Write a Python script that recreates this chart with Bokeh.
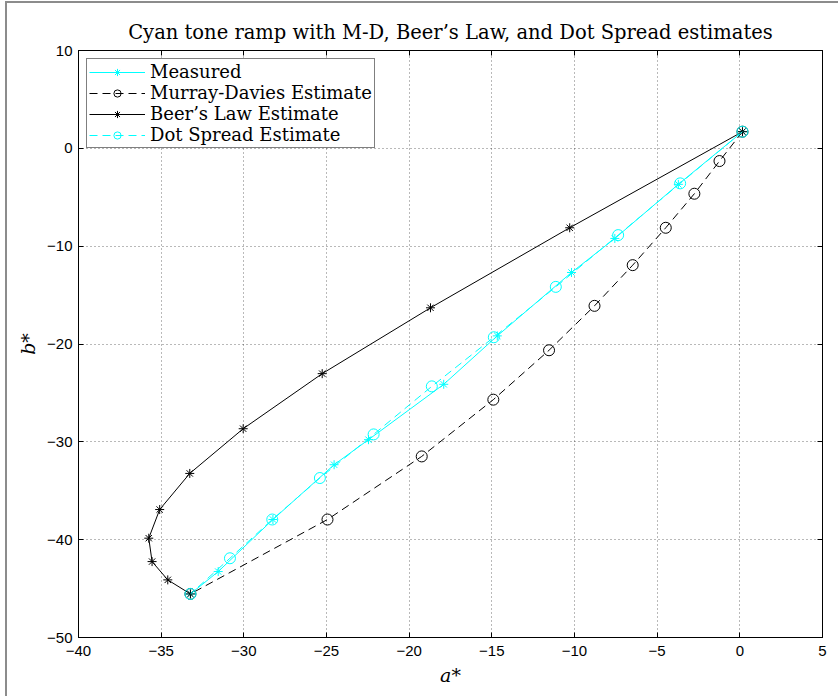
from bokeh.plotting import figure
from bokeh.models import Legend, LegendItem, LinearAxis, FixedTicker, Range1d
from bokeh.embed import file_html
from bokeh.resources import INLINE

# ---- data (a*, b*) ----
measured_a = [0.16, -3.72, -7.56, -10.18, -14.67, -17.91, -22.46, -24.54, -28.24, -31.55, -33.23]
measured_b = [1.70, -3.68, -9.21, -12.69, -19.17, -24.12, -29.78, -32.34, -37.94, -43.26, -45.55]

md_a = [0.16, -1.23, -2.75, -4.48, -6.48, -8.79, -11.54, -14.91, -19.24, -24.94, -33.23]
md_b = [1.70, -1.30, -4.64, -8.12, -11.94, -16.10, -20.64, -25.69, -31.49, -37.94, -45.55]

beer_a = [0.16, -10.29, -18.71, -25.26, -30.04, -33.27, -35.09, -35.75, -35.55, -34.60, -33.23]
beer_b = [1.70, -8.12, -16.30, -23.03, -28.66, -33.23, -36.92, -39.85, -42.24, -44.11, -45.55]

ds_a = [0.16, -3.61, -7.36, -11.13, -14.88, -18.63, -22.15, -25.40, -28.28, -30.84, -33.23]
ds_b = [1.70, -3.58, -8.87, -14.16, -19.31, -24.33, -29.24, -33.70, -37.94, -41.90, -45.55]

x_ticks = [-40, -35, -30, -25, -20, -15, -10, -5, 0, 5]
y_ticks = [-50, -40, -30, -20, -10, 0, 10]

title_text = "Cyan tone ramp with M-D, Beer\u2019s Law, and Dot Spread estimates"
labels = ["Measured", "Murray-Davies Estimate", "Beer\u2019s Law Estimate", "Dot Spread Estimate"]

CYAN = "#00FFFF"
SERIF = "DejaVu Serif"
SANS = "Liberation Sans"

p = figure(width=831, height=693, output_backend="svg", toolbar_location=None,
           x_range=Range1d(-40, 5), y_range=Range1d(-50, 10),
           min_border_left=71, min_border_right=18, min_border_top=47,
           min_border_bottom=61, x_axis_location=None, y_axis_location=None)
p.styles = {"position": "absolute", "left": "5px", "top": "1px",
            "box-sizing": "content-box",
            "border-left": "2px solid #8c8c8c", "border-top": "2px solid #8c8c8c",
            "border-right": "0px none", "border-bottom": "0px none"}
p.background_fill_color = "white"
p.border_fill_color = "white"
p.outline_line_color = "black"
p.outline_line_width = 1

p.title.text = title_text
p.title.text_font = SERIF
p.title.text_font_style = "normal"
p.title.text_font_size = "19.5px"
p.title.align = "center"
p.title.text_color = "black"
p.title.standoff = 14

def make_axis(ticks, label=None, show_labels=True):
    ax = LinearAxis(ticker=FixedTicker(ticks=ticks))
    ax.major_tick_in = 5
    ax.major_tick_out = 0
    ax.minor_tick_line_color = None
    ax.axis_line_color = "black"
    ax.major_tick_line_color = "black"
    ax.major_label_text_font = SANS
    ax.major_label_text_font_size = "15px"
    ax.major_label_text_color = "black"
    if not show_labels:
        ax.major_label_text_font_size = "0px"
        ax.major_label_text_alpha = 0
        ax.major_label_standoff = 0
    if label:
        ax.axis_label = label
        ax.axis_label_text_font = SERIF
        ax.axis_label_text_font_style = "italic"
        ax.axis_label_text_font_size = "19px"
        ax.axis_label_text_color = "black"
    return ax

xb = make_axis(x_ticks, "a*")
xb.major_label_standoff = 8
yl = make_axis(y_ticks, "b*")
yl.major_label_standoff = 6
xa = make_axis(x_ticks, show_labels=False)
yr = make_axis(y_ticks, show_labels=False)
p.add_layout(xb, "below")
p.add_layout(yl, "left")
p.add_layout(xa, "above")
p.add_layout(yr, "right")

p.xgrid.ticker = FixedTicker(ticks=x_ticks)
p.ygrid.ticker = FixedTicker(ticks=y_ticks)
for g in (p.xgrid, p.ygrid):
    g.grid_line_color = "black"
    g.grid_line_alpha = 0.55
    g.grid_line_dash = "1 3"
    g.grid_line_width = 1

DASH = "8 5"
l1 = p.line(measured_a, measured_b, line_color=CYAN, line_width=1)
s1 = p.scatter(measured_a, measured_b, marker="asterisk", size=9, line_color=CYAN, line_width=1)
l2 = p.line(md_a, md_b, line_color="black", line_width=1, line_dash=DASH)
s2 = p.scatter(md_a, md_b, marker="circle", size=11, line_color="black",
               fill_color=None, line_width=1)
l3 = p.line(beer_a, beer_b, line_color="black", line_width=1)
s3 = p.scatter(beer_a, beer_b, marker="asterisk", size=9, line_color="black", line_width=1)
l4 = p.line(ds_a, ds_b, line_color=CYAN, line_width=1, line_dash=DASH)
s4 = p.scatter(ds_a, ds_b, marker="circle", size=11, line_color=CYAN,
               fill_color=None, line_width=1)

legend = Legend(items=[
    LegendItem(label=labels[0], renderers=[l1, s1]),
    LegendItem(label=labels[1], renderers=[l2, s2]),
    LegendItem(label=labels[2], renderers=[l3, s3]),
    LegendItem(label=labels[3], renderers=[l4, s4]),
], location="top_left")
legend.margin = 8
legend.padding = 2
legend.spacing = -5
legend.label_standoff = 5
legend.glyph_width = 56
legend.glyph_height = 18
legend.label_height = 18
legend.label_text_font = SERIF
legend.label_text_font_size = "18px"
legend.label_text_color = "black"
legend.border_line_color = "black"
legend.border_line_width = 1
legend.background_fill_color = "white"
legend.background_fill_alpha = 1
p.add_layout(legend)

open("out.html", "w").write(file_html(p, INLINE))
